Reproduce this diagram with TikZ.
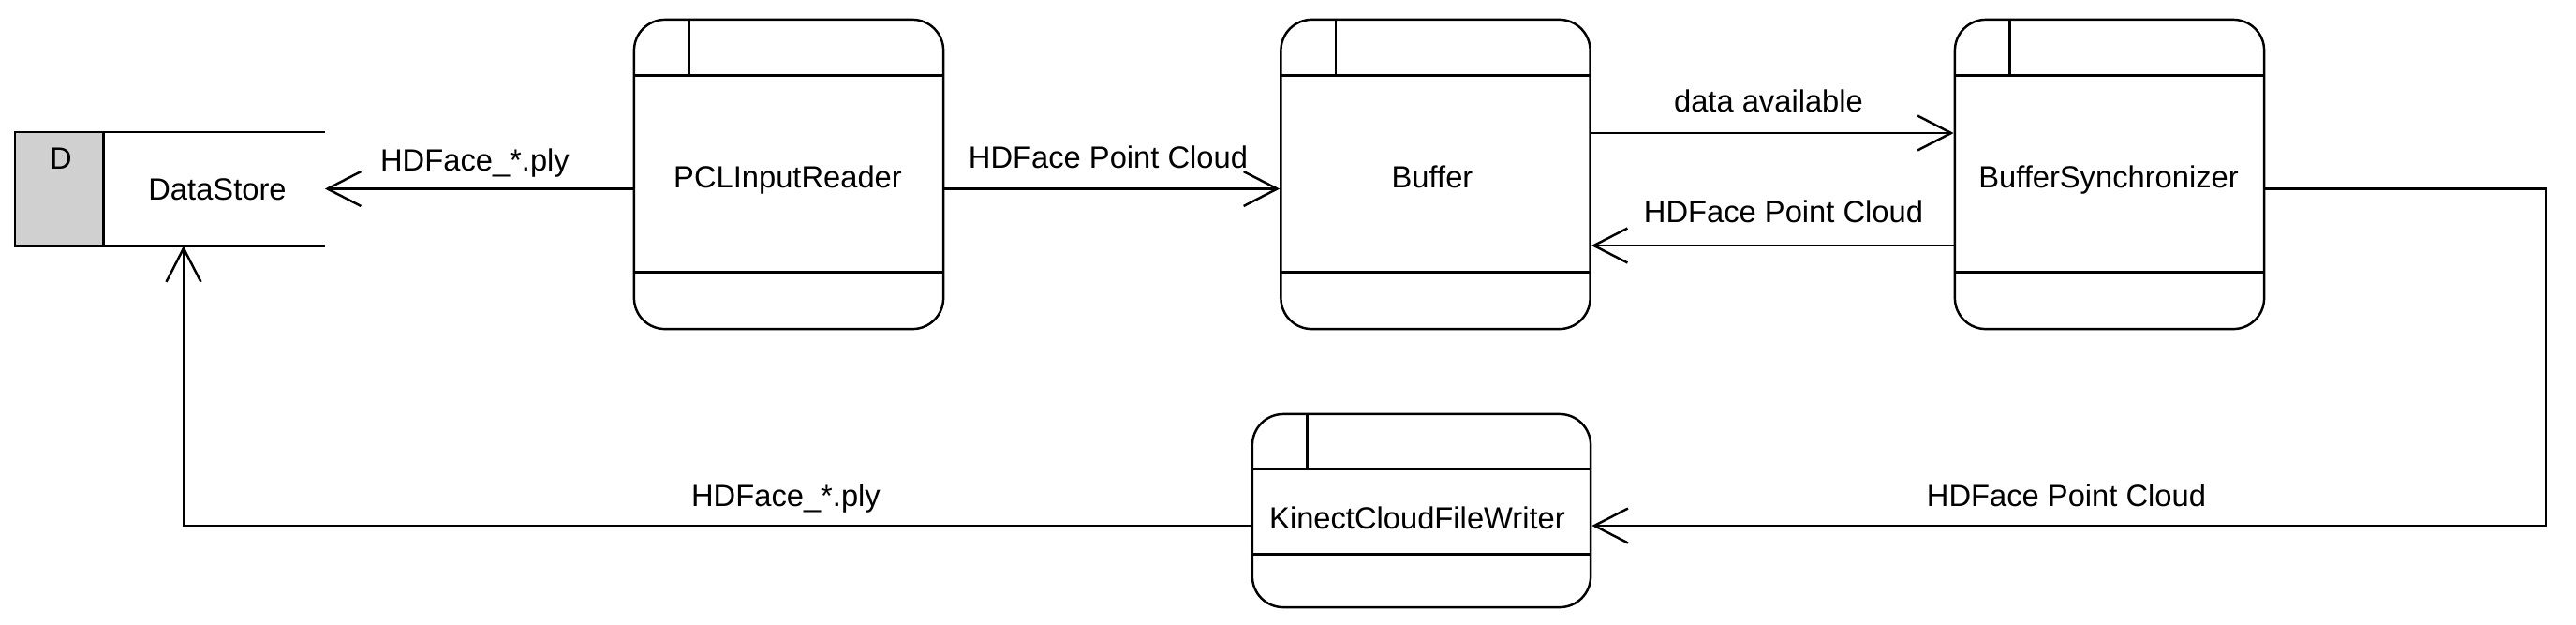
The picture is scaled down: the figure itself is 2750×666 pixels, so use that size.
\documentclass[tikz,border=0pt]{standalone}
\usepackage{fontspec}
\setmainfont{Liberation Sans}
\usetikzlibrary{arrows.meta,calc}
\definecolor{storegray}{HTML}{D0D0D0}
\begin{document}
\begin{tikzpicture}[x=0.01cm,y=-0.01cm,
  line width=0.7pt,
  every node/.style={font=\fontsize{9.3}{11}\selectfont},
  proc/.style={draw, rounded corners=0.33cm, inner sep=0pt},
  bigproc/.style={proc, minimum width=3.3cm, minimum height=3.3cm},
  arr/.style={-{Straight Barb[length=10.2pt,width=10.5pt]}},
  lbl/.style={anchor=base, inner sep=0pt},
]
\useasboundingbox (0,0) rectangle (2750,666);

% process boxes
\node[bigproc] (pcl) at (842,186) {};
\node[bigproc] (buf) at (1532.5,186) {};
\node[bigproc] (bsync) at (2252,186) {};
\node[proc, minimum width=3.61cm, minimum height=2.06cm] (kcfw) at (1517.5,545) {};

\foreach \n in {pcl,buf,bsync}{
  \draw ($(\n.north west)+(0,61)$) -- ($(\n.north east)+(0,61)$);
  \draw ($(\n.south west)+(0,-62)$) -- ($(\n.south east)+(0,-62)$);
  \draw ($(\n.north west)+(60,0)$) -- ($(\n.north west)+(60,61)$);
}
\draw ($(kcfw.north west)+(0,60)$) -- ($(kcfw.north east)+(0,60)$);
\draw ($(kcfw.south west)+(0,-58)$) -- ($(kcfw.south east)+(0,-58)$);
\draw ($(kcfw.north west)+(60,0)$) -- ($(kcfw.north west)+(60,60)$);

\node[lbl] (pcltxt) at (841,200) {PCLInputReader};
\node[lbl] (buftxt) at (1529,200) {Buffer};
\node[lbl] (bsynctxt) at (2251,200) {BufferSynchronizer};
\node[lbl] (kcfwtxt) at (1513,564) {KinectCloudFileWriter};

% data store
\node[minimum width=3.28cm, minimum height=1.19cm, inner sep=0pt] (ds) at (181.5,201.5) {};
\fill[storegray] (ds.north west) rectangle ($(ds.south west)+(94.5,0)$);
\draw (ds.north east) -- (ds.north west) -- (ds.south west) -- (ds.south east);
\draw ($(ds.north west)+(94.5,0)$) -- ($(ds.south west)+(94.5,0)$);
\node[lbl] (dsd) at (65,180) {D};
\node[lbl] (dstxt) at (232,213.5) {DataStore};

% connectors
\coordinate (rc) at (2718,561);
\coordinate (lc) at (196,561);
\draw[arr] (pcl.west |- ds.east) -- (ds.east);
\draw[arr] (pcl.east |- ds.east) -- (buf.west |- ds.east);
\draw[arr] ($(buf.east)+(0,-44)$) -- ($(bsync.west)+(0,-44)$);
\draw[arr] ($(bsync.west)+(0,76)$) -- ($(buf.east)+(0,76)$);
\draw[arr] (bsync.east |- ds.east) -| (rc) -- (kcfw.east |- rc);
\draw[arr] (kcfw.west |- lc) -- (lc) -- (lc |- ds.south);

% labels
\node[lbl] (l1) at (507,182) {HDFace\_*.ply};
\node[lbl] (l2) at (1183,179) {HDFace Point Cloud};
\node[lbl] (l3) at (1888,119) {data available};
\node[lbl] (l4) at (1904,237) {HDFace Point Cloud};
\node[lbl] (l5) at (2206,540) {HDFace Point Cloud};
\node[lbl] (l6) at (839,540) {HDFace\_*.ply};
\end{tikzpicture}
\end{document}
